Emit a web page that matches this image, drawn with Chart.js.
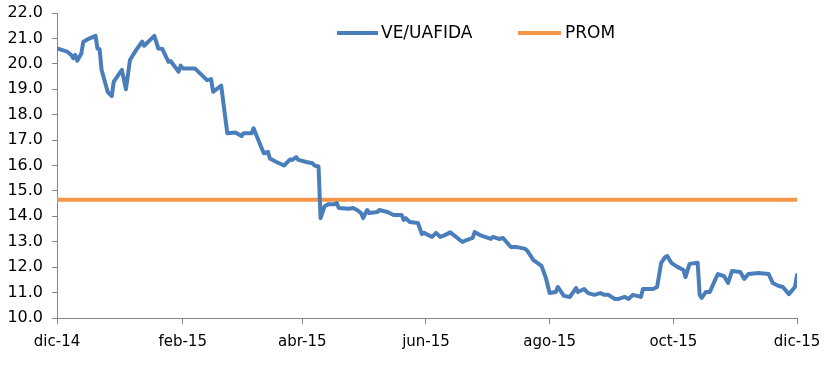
<!DOCTYPE html>
<html>
<head>
<meta charset="utf-8">
<script src="https://cdn.jsdelivr.net/npm/chart.js@4/dist/chart.umd.min.js"></script>
<style>
  html, body { margin: 0; padding: 0; background: #ffffff; }
  #wrap { width: 833px; height: 377px; position: relative; }
</style>
</head>
<body>
<div id="wrap"><canvas id="c" width="833" height="377"></canvas></div>
<script>
// Days since 1 Dec 2014
const days = [0,5,7,8,9,10,12,13,15,19,20,21,22,25,27,28,32,34,36,39,42,43,48,50,52,55,56,60,61,62,68,74,76,77,81,84,88,91,92,96,97,100,102,104,105,108,112,115,116,118,119,123,126,127,129,130,132,134,137,138,139,144,146,148,150,151,153,154,158,159,163,166,170,171,172,174,178,180,181,185,187,189,191,194,200,201,205,206,209,214,215,218,220,223,224,227,231,232,235,239,241,243,246,247,250,253,256,257,260,262,265,268,270,272,275,277,280,282,284,288,289,294,296,298,300,301,303,306,309,310,312,316,317,318,320,322,325,326,329,331,333,337,339,341,346,351,353,356,358,361,364,365];
const veUafida = [20.61,20.48,20.35,20.22,20.35,20.12,20.41,20.87,20.96,21.10,20.60,20.58,19.76,18.90,18.73,19.30,19.76,19.00,20.15,20.54,20.87,20.71,21.10,20.60,20.58,20.08,20.11,19.69,19.93,19.82,19.82,19.36,19.40,18.90,19.14,17.27,17.30,17.16,17.27,17.27,17.46,16.87,16.48,16.54,16.28,16.15,16.00,16.24,16.22,16.33,16.22,16.14,16.09,16.00,15.96,13.93,14.40,14.48,14.48,14.52,14.33,14.30,14.33,14.25,14.13,13.93,14.25,14.13,14.17,14.25,14.17,14.05,14.05,13.86,13.93,13.78,13.74,13.30,13.35,13.19,13.35,13.19,13.25,13.37,12.99,13.03,13.15,13.38,13.25,13.11,13.19,13.11,13.15,12.87,12.79,12.79,12.72,12.64,12.28,12.05,11.61,10.98,11.02,11.22,10.87,10.83,11.18,11.02,11.14,10.98,10.91,10.98,10.91,10.91,10.75,10.75,10.83,10.75,10.91,10.83,11.14,11.14,11.22,12.17,12.40,12.44,12.17,12.01,11.89,11.61,12.13,12.17,10.91,10.79,11.02,11.02,11.57,11.73,11.65,11.38,11.85,11.81,11.54,11.73,11.77,11.73,11.38,11.26,11.22,10.94,11.22,11.69];
const promDays = [0, 365];
const promValues = [14.65, 14.65];
const tickDays = [0, 62, 121, 182, 243, 304, 365];
const tickLabels = ['dic-14','feb-15','abr-15','jun-15','ago-15','oct-15','dic-15'];
const seriesNames = ['VE/UAFIDA', 'PROM'];

const BLUE = '#4a7ebb';
const ORANGE = '#f79646';
const AXIS = '#868686';
const FONT = '"DejaVu Sans", Verdana, sans-serif';

const legendPlugin = {
  id: 'insideLegend',
  afterDatasetsDraw(chart) {
    const ctx = chart.ctx;
    const items = [
      { x: 337, len: 41, tx: 381, y: 33 },
      { x: 518, len: 43, tx: 565, y: 33 }
    ];
    ctx.save();
    ctx.font = '17px ' + FONT;
    ctx.textBaseline = 'middle';
    ctx.textAlign = 'left';
    chart.data.datasets.forEach((ds, i) => {
      const p = items[i];
      ctx.strokeStyle = ds.borderColor;
      ctx.lineWidth = 4;
      ctx.beginPath();
      ctx.moveTo(p.x, p.y);
      ctx.lineTo(p.x + p.len, p.y);
      ctx.stroke();
      ctx.fillStyle = '#000000';
      ctx.fillText(ds.label, p.tx, p.y + 1);
    });
    ctx.restore();
  }
};

new Chart(document.getElementById('c'), {
  type: 'line',
  data: {
    datasets: [
      {
        label: seriesNames[0],
        data: days.map((d, i) => ({ x: d, y: veUafida[i] })),
        borderColor: BLUE,
        backgroundColor: BLUE,
        borderWidth: 4,
        pointRadius: 0,
        tension: 0,
        borderJoinStyle: 'round',
        borderCapStyle: 'round'
      },
      {
        label: seriesNames[1],
        data: promDays.map((d, i) => ({ x: d, y: promValues[i] })),
        borderColor: ORANGE,
        backgroundColor: ORANGE,
        borderWidth: 4,
        pointRadius: 0,
        tension: 0
      }
    ]
  },
  options: {
    responsive: false,
    animation: false,
    layout: { padding: { left: 0, top: 13, right: 36, bottom: 0 } },
    plugins: {
      legend: { display: false },
      tooltip: { enabled: false }
    },
    scales: {
      x: {
        type: 'linear',
        min: 0,
        max: 365,
        afterBuildTicks: (s) => { s.ticks = tickDays.map(v => ({ value: v })); },
        afterFit: (s) => { s.height = 59; s.paddingLeft = 0; s.paddingRight = 0; },
        ticks: {
          autoSkip: false,
          maxRotation: 0,
          padding: 9,
          color: '#000000',
          font: { family: FONT, size: 15 },
          callback: (v) => { const i = tickDays.indexOf(v); return i >= 0 ? tickLabels[i] : ''; }
        },
        grid: { drawOnChartArea: false, drawTicks: true, tickLength: 6, color: AXIS },
        border: { color: AXIS, width: 1 }
      },
      y: {
        min: 10,
        max: 22,
        afterFit: (s) => { s.width = 57; s.paddingTop = 0; s.paddingBottom = 0; },
        ticks: {
          stepSize: 1,
          padding: 9,
          color: '#000000',
          font: { family: FONT, size: 16 },
          callback: (v) => Number(v).toFixed(1)
        },
        grid: { drawOnChartArea: false, drawTicks: true, tickLength: 5, color: AXIS },
        border: { color: AXIS, width: 1 }
      }
    }
  },
  plugins: [legendPlugin]
});
</script>
</body>
</html>
